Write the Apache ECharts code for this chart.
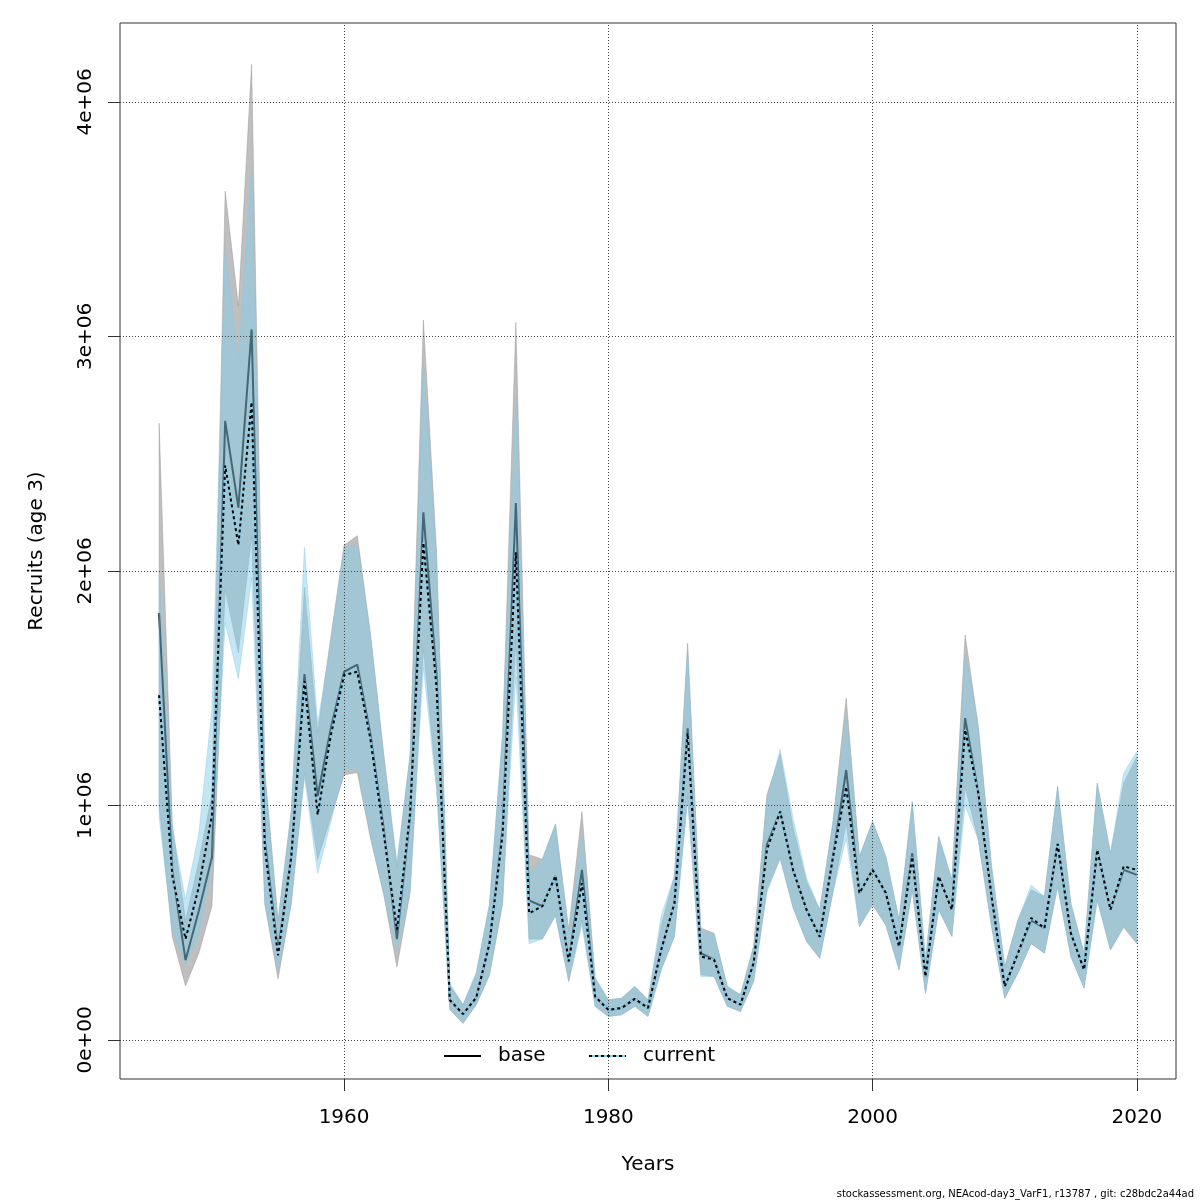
<!DOCTYPE html>
<html>
<head>
<meta charset="utf-8">
<script src="https://cdn.jsdelivr.net/npm/echarts@6/dist/echarts.min.js"></script>
<style>
  html, body { margin: 0; padding: 0; background: #fff; }
  #chart { width: 1200px; height: 1200px; }
</style>
</head>
<body>
<div id="chart"></div>
<script>
// recruits in millions
const years = [1946,1947,1948,1949,1950,1951,1952,1953,1954,1955,1956,1957,1958,1959,
  1960,1961,1962,1963,1964,1965,1966,1967,1968,1969,1970,1971,1972,1973,1974,1975,1976,1977,1978,1979,
  1980,1981,1982,1983,1984,1985,1986,1987,1988,1989,1990,1991,1992,1993,1994,1995,1996,1997,1998,1999,
  2000,2001,2002,2003,2004,2005,2006,2007,2008,2009,2010,2011,2012,2013,2014,2015,2016,2017,2018,2019,2020];

const baseRec = [1.82,0.72,0.34,0.55,0.78,2.64,2.27,3.03,0.85,0.38,0.78,1.56,1.04,1.33,
  1.57,1.60,1.30,0.90,0.43,0.96,2.25,1.55,0.17,0.11,0.18,0.41,0.90,2.29,0.595,0.57,0.70,0.335,0.725,0.185,
  0.128,0.136,0.175,0.136,0.384,0.583,1.329,0.37,0.342,0.178,0.15,0.33,0.832,0.974,0.72,0.555,0.44,0.78,1.151,0.626,
  0.725,0.626,0.398,0.796,0.27,0.697,0.555,1.372,1.052,0.612,0.228,0.37,0.51,0.477,0.836,0.455,0.299,0.81,0.555,0.725,0.704];
const baseLow = [1.00,0.44,0.23,0.37,0.57,1.92,1.65,2.15,0.58,0.26,0.58,1.14,0.77,0.95,
  1.13,1.14,0.86,0.62,0.31,0.63,1.67,1.09,0.13,0.07,0.15,0.275,0.58,1.71,0.43,0.43,0.53,0.25,0.51,0.143,
  0.10,0.107,0.143,0.10,0.299,0.441,1.04,0.278,0.27,0.143,0.121,0.25,0.64,0.775,0.56,0.42,0.348,0.63,0.924,0.483,
  0.576,0.49,0.299,0.64,0.199,0.555,0.441,1.08,0.853,0.484,0.178,0.285,0.41,0.37,0.654,0.356,0.221,0.597,0.384,0.48,0.41];
const baseHigh = [2.63,0.92,0.51,0.76,1.05,3.62,3.13,4.16,1.15,0.51,0.97,1.93,1.31,1.72,
  2.11,2.15,1.73,1.22,0.74,1.22,3.07,2.08,0.234,0.15,0.28,0.575,1.30,3.06,0.79,0.77,0.92,0.47,0.974,0.263,
  0.171,0.178,0.228,0.171,0.49,0.697,1.692,0.477,0.455,0.228,0.192,0.40,1.045,1.22,0.90,0.675,0.555,0.93,1.457,0.782,
  0.931,0.782,0.512,1.016,0.341,0.867,0.683,1.727,1.336,0.74,0.313,0.512,0.64,0.612,1.08,0.583,0.37,1.095,0.796,1.095,1.208];

const curRec = [1.47,0.70,0.43,0.65,0.96,2.45,2.11,2.72,0.82,0.36,0.78,1.53,0.96,1.30,
  1.556,1.57,1.28,0.88,0.47,0.97,2.12,1.50,0.17,0.11,0.18,0.41,0.88,2.08,0.54,0.57,0.70,0.335,0.668,0.185,
  0.128,0.136,0.175,0.136,0.384,0.583,1.308,0.356,0.342,0.178,0.15,0.33,0.81,0.974,0.72,0.555,0.44,0.78,1.08,0.626,
  0.725,0.626,0.398,0.78,0.27,0.697,0.555,1.322,1.052,0.612,0.228,0.37,0.52,0.477,0.836,0.455,0.299,0.81,0.555,0.74,0.725];
const curLow = [0.95,0.47,0.32,0.45,0.75,1.78,1.54,1.97,0.58,0.30,0.58,1.12,0.71,0.93,
  1.15,1.16,0.87,0.62,0.38,0.64,1.59,1.06,0.13,0.075,0.15,0.28,0.60,1.55,0.41,0.43,0.53,0.25,0.49,0.143,
  0.10,0.107,0.143,0.10,0.299,0.441,1.02,0.27,0.27,0.143,0.121,0.25,0.63,0.775,0.56,0.42,0.348,0.63,0.86,0.483,
  0.576,0.49,0.299,0.64,0.199,0.555,0.441,1.00,0.853,0.484,0.178,0.285,0.413,0.37,0.654,0.356,0.221,0.597,0.384,0.484,0.42];
const curHigh = [2.00,0.90,0.60,0.88,1.41,3.38,2.90,3.73,1.12,0.50,0.98,2.10,1.35,1.70,
  2.10,2.11,1.72,1.20,0.76,1.21,2.89,2.05,0.24,0.15,0.29,0.58,1.32,2.74,0.71,0.77,0.92,0.46,0.88,0.263,
  0.171,0.178,0.228,0.171,0.53,0.70,1.67,0.46,0.45,0.228,0.192,0.40,1.02,1.24,0.94,0.69,0.555,0.93,1.379,0.782,
  0.931,0.782,0.512,1.016,0.341,0.867,0.683,1.649,1.336,0.74,0.313,0.512,0.66,0.612,1.08,0.583,0.37,1.095,0.796,1.137,1.23];

const xTicks = [1960, 1980, 2000, 2020];
const yTicks = [0, 1, 2, 3, 4];

const FONT = "DejaVu Sans";

function bandSeries(name, lo, hi, fill, stroke, z) {
  return {
    type: "custom",
    name: name,
    z: z,
    silent: true,
    animation: false,
    data: years.map((y, i) => [y, lo[i], hi[i]]),
    encode: {x: 0, y: [1, 2]},
    renderItem: function (params, api) {
      if (params.dataIndex !== 0) return;
      let pts = [];
      for (let i = 0; i < years.length; i++) pts.push(api.coord([years[i], hi[i]]));
      for (let i = years.length - 1; i >= 0; i--) pts.push(api.coord([years[i], lo[i]]));
      return {type: "polygon", shape: {points: pts}, style: {fill: fill, stroke: stroke, lineWidth: 0.8}};
    }
  };
}

let gridMarks = xTicks.map(v => ({xAxis: v})).concat(yTicks.map(v => ({yAxis: v})));

let chart = echarts.init(document.getElementById("chart"), null, {renderer: "canvas"});
chart.setOption({
  animation: false,
  backgroundColor: "#fff",
  grid: {left: 120, top: 23, width: 1056, height: 1056, show: true, borderColor: "#333", borderWidth: 1, backgroundColor: "transparent"},
  xAxis: {
    type: "value", min: 1943.04, max: 2022.96,
    axisLine: {show: false, onZero: false},
    splitLine: {show: false},
    axisTick: {show: true, inside: false, length: 12, customValues: xTicks, lineStyle: {color: "#333"}},
    axisLabel: {customValues: xTicks, margin: 29, fontSize: 20, fontFamily: FONT, color: "#000", formatter: v => String(v)}
  },
  yAxis: {
    type: "value", min: -0.1668, max: 4.3368,
    axisLine: {show: false, onZero: false},
    splitLine: {show: false},
    axisTick: {show: true, inside: false, length: 12, customValues: yTicks, lineStyle: {color: "#333"}},
    axisLabel: {customValues: yTicks, rotate: 90, margin: 24, fontSize: 20, fontFamily: FONT, color: "#000",
      formatter: v => v === 0 ? "0e+00" : v + "e+06"}
  },
  series: [
    bandSeries("base CI", baseLow, baseHigh, "rgba(127,127,127,0.5)", "rgba(140,140,140,0.5)", 1),
    {
      type: "line", name: "base", z: 2, showSymbol: false, silent: true,
      data: years.map((y, i) => [y, baseRec[i]]),
      lineStyle: {color: "#000", width: 2}
    },
    bandSeries("current CI", curLow, curHigh, "rgba(135,206,235,0.5)", "rgba(135,200,230,0.5)", 3),
    {
      type: "line", name: "current-under", z: 4, showSymbol: false, silent: true,
      data: years.map((y, i) => [y, curRec[i]]),
      lineStyle: {color: "#87ceeb", width: 2}
    },
    {
      type: "line", name: "current", z: 5, showSymbol: false, silent: true,
      data: years.map((y, i) => [y, curRec[i]]),
      lineStyle: {color: "#000", width: 2, type: [3, 3]},
      markLine: {
        silent: true, symbol: "none", animation: false,
        label: {show: false},
        lineStyle: {color: "#444", width: 1, type: [1, 2]},
        data: gridMarks
      }
    }
  ],
  graphic: [
    {type: "text", x: 37, y: 551, rotation: Math.PI / 2,
      style: {text: "Recruits (age 3)", fontSize: 20, fontFamily: FONT, fill: "#000", align: "center", verticalAlign: "middle"}},
    {type: "text", x: 648, y: 1165,
      style: {text: "Years", fontSize: 20, fontFamily: FONT, fill: "#000", align: "center", verticalAlign: "middle"}},
    {type: "text", x: 1194, y: 1194,
      style: {text: "stockassessment.org, NEAcod-day3_VarF1, r13787 , git: c28bdc2a44ad", fontSize: 10, fontFamily: FONT, fill: "#000", align: "right", verticalAlign: "middle"}},
    // legend
    {type: "line", shape: {x1: 444, y1: 1056, x2: 481, y2: 1056}, style: {stroke: "#000", lineWidth: 2}},
    {type: "text", x: 498, y: 1056,
      style: {text: "base", fontSize: 20, fontFamily: FONT, fill: "#000", align: "left", verticalAlign: "middle"}},
    {type: "line", shape: {x1: 589, y1: 1056, x2: 626, y2: 1056}, style: {stroke: "#87ceeb", lineWidth: 2}},
    {type: "line", shape: {x1: 589, y1: 1056, x2: 626, y2: 1056}, style: {stroke: "#000", lineWidth: 2, lineDash: [3, 3]}},
    {type: "text", x: 643, y: 1056,
      style: {text: "current", fontSize: 20, fontFamily: FONT, fill: "#000", align: "left", verticalAlign: "middle"}}
  ]
});
</script>
</body>
</html>
